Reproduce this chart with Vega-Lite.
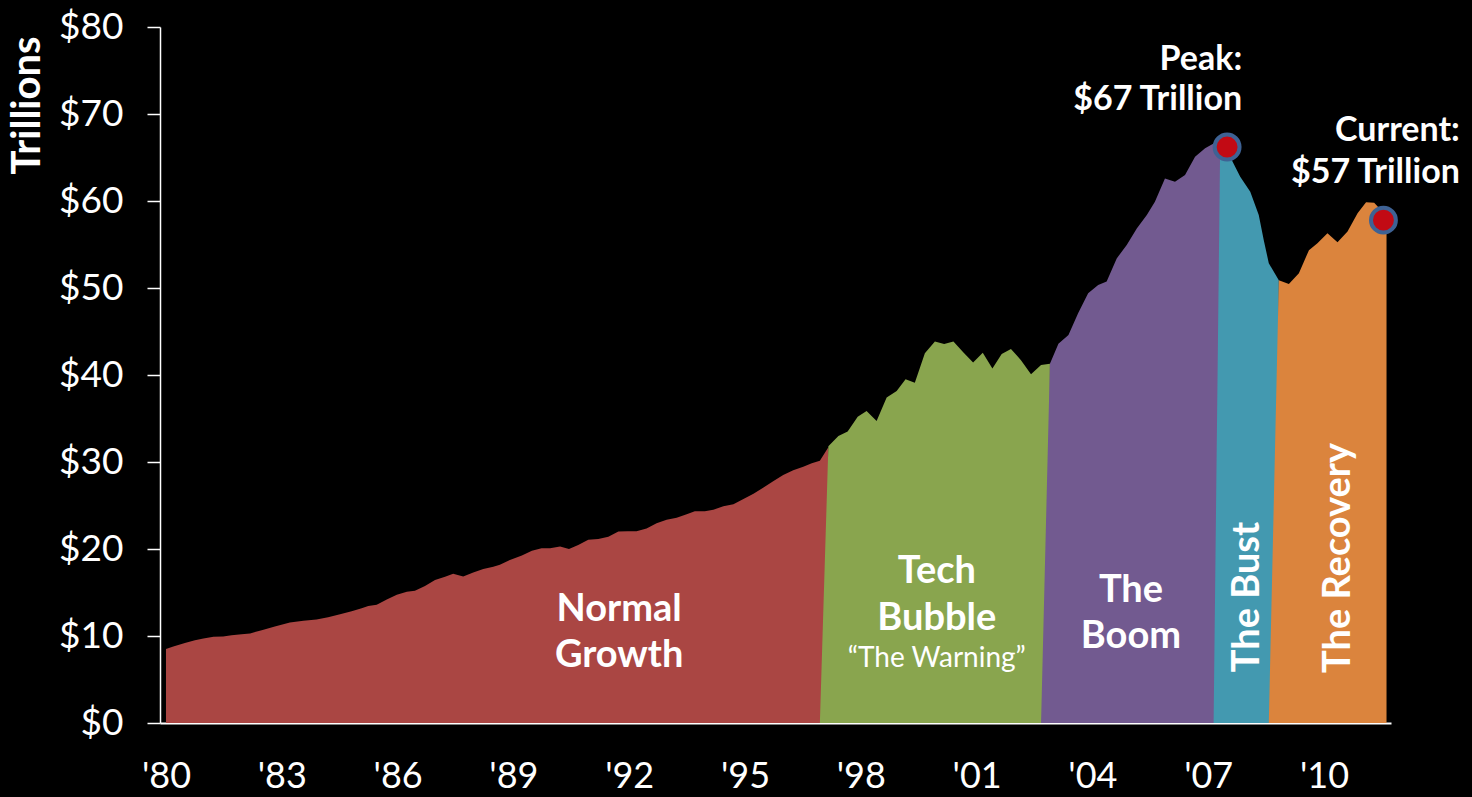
{
  "$schema": "https://vega.github.io/schema/vega-lite/v6.json",
  "width": 1231,
  "height": 696,
  "autosize": {"type": "none"},
  "padding": {"left": 160, "top": 27, "right": 81, "bottom": 74},
  "background": "#000000",
  "config": {"view": {"stroke": null}, "font": "Lato"},
  "datasets": {
    "series": [
      {"era": "Normal Growth", "year": 1980.00, "value": 8.5},
      {"era": "Normal Growth", "year": 1980.19, "value": 8.8},
      {"era": "Normal Growth", "year": 1980.49, "value": 9.2},
      {"era": "Normal Growth", "year": 1980.75, "value": 9.5},
      {"era": "Normal Growth", "year": 1980.97, "value": 9.7},
      {"era": "Normal Growth", "year": 1981.23, "value": 9.9},
      {"era": "Normal Growth", "year": 1981.48, "value": 9.95},
      {"era": "Normal Growth", "year": 1981.70, "value": 10.1},
      {"era": "Normal Growth", "year": 1981.96, "value": 10.2},
      {"era": "Normal Growth", "year": 1982.18, "value": 10.3},
      {"era": "Normal Growth", "year": 1982.48, "value": 10.65},
      {"era": "Normal Growth", "year": 1982.82, "value": 11.1},
      {"era": "Normal Growth", "year": 1983.21, "value": 11.55},
      {"era": "Normal Growth", "year": 1983.56, "value": 11.75},
      {"era": "Normal Growth", "year": 1983.90, "value": 11.9},
      {"era": "Normal Growth", "year": 1984.20, "value": 12.15},
      {"era": "Normal Growth", "year": 1984.51, "value": 12.5},
      {"era": "Normal Growth", "year": 1984.81, "value": 12.85},
      {"era": "Normal Growth", "year": 1985.07, "value": 13.2},
      {"era": "Normal Growth", "year": 1985.24, "value": 13.45},
      {"era": "Normal Growth", "year": 1985.46, "value": 13.6},
      {"era": "Normal Growth", "year": 1985.72, "value": 14.2},
      {"era": "Normal Growth", "year": 1985.98, "value": 14.75},
      {"era": "Normal Growth", "year": 1986.24, "value": 15.1},
      {"era": "Normal Growth", "year": 1986.45, "value": 15.2},
      {"era": "Normal Growth", "year": 1986.71, "value": 15.75},
      {"era": "Normal Growth", "year": 1986.97, "value": 16.45},
      {"era": "Normal Growth", "year": 1987.23, "value": 16.8},
      {"era": "Normal Growth", "year": 1987.44, "value": 17.15},
      {"era": "Normal Growth", "year": 1987.70, "value": 16.85},
      {"era": "Normal Growth", "year": 1987.96, "value": 17.3},
      {"era": "Normal Growth", "year": 1988.22, "value": 17.7},
      {"era": "Normal Growth", "year": 1988.48, "value": 17.95},
      {"era": "Normal Growth", "year": 1988.65, "value": 18.2},
      {"era": "Normal Growth", "year": 1988.91, "value": 18.75},
      {"era": "Normal Growth", "year": 1989.22, "value": 19.25},
      {"era": "Normal Growth", "year": 1989.48, "value": 19.8},
      {"era": "Normal Growth", "year": 1989.73, "value": 20.1},
      {"era": "Normal Growth", "year": 1989.95, "value": 20.1},
      {"era": "Normal Growth", "year": 1990.21, "value": 20.3},
      {"era": "Normal Growth", "year": 1990.44, "value": 20.0},
      {"era": "Normal Growth", "year": 1990.68, "value": 20.45},
      {"era": "Normal Growth", "year": 1990.94, "value": 21.05},
      {"era": "Normal Growth", "year": 1991.20, "value": 21.15},
      {"era": "Normal Growth", "year": 1991.46, "value": 21.4},
      {"era": "Normal Growth", "year": 1991.72, "value": 22.0},
      {"era": "Normal Growth", "year": 1991.96, "value": 22.05},
      {"era": "Normal Growth", "year": 1992.19, "value": 22.05},
      {"era": "Normal Growth", "year": 1992.45, "value": 22.35},
      {"era": "Normal Growth", "year": 1992.71, "value": 22.95},
      {"era": "Normal Growth", "year": 1992.97, "value": 23.35},
      {"era": "Normal Growth", "year": 1993.23, "value": 23.6},
      {"era": "Normal Growth", "year": 1993.49, "value": 24.0},
      {"era": "Normal Growth", "year": 1993.70, "value": 24.35},
      {"era": "Normal Growth", "year": 1993.96, "value": 24.35},
      {"era": "Normal Growth", "year": 1994.18, "value": 24.5},
      {"era": "Normal Growth", "year": 1994.44, "value": 24.9},
      {"era": "Normal Growth", "year": 1994.70, "value": 25.15},
      {"era": "Normal Growth", "year": 1994.96, "value": 25.75},
      {"era": "Normal Growth", "year": 1995.22, "value": 26.35},
      {"era": "Normal Growth", "year": 1995.47, "value": 27.05},
      {"era": "Normal Growth", "year": 1995.73, "value": 27.8},
      {"era": "Normal Growth", "year": 1995.99, "value": 28.5},
      {"era": "Normal Growth", "year": 1996.25, "value": 29.05},
      {"era": "Normal Growth", "year": 1996.51, "value": 29.45},
      {"era": "Normal Growth", "year": 1996.73, "value": 29.85},
      {"era": "Normal Growth", "year": 1996.94, "value": 30.15},
      {"era": "Normal Growth", "year": 1997.16, "value": 31.7},
      {"era": "Tech Bubble", "year": 1996.94, "value": 0},
      {"era": "Tech Bubble", "year": 1997.16, "value": 31.8},
      {"era": "Tech Bubble", "year": 1997.42, "value": 33.0},
      {"era": "Tech Bubble", "year": 1997.66, "value": 33.5},
      {"era": "Tech Bubble", "year": 1997.92, "value": 35.2},
      {"era": "Tech Bubble", "year": 1998.15, "value": 35.85},
      {"era": "Tech Bubble", "year": 1998.41, "value": 34.7},
      {"era": "Tech Bubble", "year": 1998.67, "value": 37.4},
      {"era": "Tech Bubble", "year": 1998.93, "value": 38.15},
      {"era": "Tech Bubble", "year": 1999.16, "value": 39.5},
      {"era": "Tech Bubble", "year": 1999.40, "value": 39.1},
      {"era": "Tech Bubble", "year": 1999.66, "value": 42.5},
      {"era": "Tech Bubble", "year": 1999.92, "value": 43.85},
      {"era": "Tech Bubble", "year": 2000.16, "value": 43.55},
      {"era": "Tech Bubble", "year": 2000.40, "value": 43.85},
      {"era": "Tech Bubble", "year": 2000.66, "value": 42.6},
      {"era": "Tech Bubble", "year": 2000.91, "value": 41.45},
      {"era": "Tech Bubble", "year": 2001.16, "value": 42.55},
      {"era": "Tech Bubble", "year": 2001.41, "value": 40.75},
      {"era": "Tech Bubble", "year": 2001.65, "value": 42.4},
      {"era": "Tech Bubble", "year": 2001.89, "value": 43.0},
      {"era": "Tech Bubble", "year": 2002.15, "value": 41.7},
      {"era": "Tech Bubble", "year": 2002.41, "value": 40.1},
      {"era": "Tech Bubble", "year": 2002.67, "value": 41.15},
      {"era": "Tech Bubble", "year": 2002.90, "value": 41.3},
      {"era": "The Boom", "year": 2002.67, "value": 0},
      {"era": "The Boom", "year": 2002.90, "value": 41.3},
      {"era": "The Boom", "year": 2003.12, "value": 43.6},
      {"era": "The Boom", "year": 2003.38, "value": 44.6},
      {"era": "The Boom", "year": 2003.63, "value": 47.1},
      {"era": "The Boom", "year": 2003.89, "value": 49.4},
      {"era": "The Boom", "year": 2004.15, "value": 50.35},
      {"era": "The Boom", "year": 2004.37, "value": 50.75},
      {"era": "The Boom", "year": 2004.63, "value": 53.4},
      {"era": "The Boom", "year": 2004.89, "value": 54.95},
      {"era": "The Boom", "year": 2005.15, "value": 56.85},
      {"era": "The Boom", "year": 2005.41, "value": 58.4},
      {"era": "The Boom", "year": 2005.62, "value": 59.9},
      {"era": "The Boom", "year": 2005.88, "value": 62.6},
      {"era": "The Boom", "year": 2006.14, "value": 62.2},
      {"era": "The Boom", "year": 2006.40, "value": 63.0},
      {"era": "The Boom", "year": 2006.66, "value": 65.1},
      {"era": "The Boom", "year": 2006.92, "value": 66.05},
      {"era": "The Boom", "year": 2007.14, "value": 66.6},
      {"era": "The Boom", "year": 2007.31, "value": 66.25},
      {"era": "The Bust", "year": 2007.14, "value": 0},
      {"era": "The Bust", "year": 2007.31, "value": 66.25},
      {"era": "The Bust", "year": 2007.61, "value": 64.7},
      {"era": "The Bust", "year": 2007.83, "value": 62.8},
      {"era": "The Bust", "year": 2008.09, "value": 61.05},
      {"era": "The Bust", "year": 2008.31, "value": 58.4},
      {"era": "The Bust", "year": 2008.44, "value": 55.5},
      {"era": "The Bust", "year": 2008.57, "value": 52.85},
      {"era": "The Bust", "year": 2008.83, "value": 50.9},
      {"era": "The Recovery", "year": 2008.57, "value": 0},
      {"era": "The Recovery", "year": 2008.83, "value": 50.9},
      {"era": "The Recovery", "year": 2009.09, "value": 50.45},
      {"era": "The Recovery", "year": 2009.35, "value": 51.7},
      {"era": "The Recovery", "year": 2009.61, "value": 54.35},
      {"era": "The Recovery", "year": 2009.83, "value": 55.15},
      {"era": "The Recovery", "year": 2010.09, "value": 56.3},
      {"era": "The Recovery", "year": 2010.35, "value": 55.25},
      {"era": "The Recovery", "year": 2010.61, "value": 56.5},
      {"era": "The Recovery", "year": 2010.87, "value": 58.6},
      {"era": "The Recovery", "year": 2011.09, "value": 59.85},
      {"era": "The Recovery", "year": 2011.30, "value": 59.8},
      {"era": "The Recovery", "year": 2011.47, "value": 59.0},
      {"era": "The Recovery", "year": 2011.62, "value": 57.5}
    ],
    "points": [
      {"name": "Peak", "year": 2007.49, "value": 66.2},
      {"name": "Current", "year": 2011.54, "value": 57.8}
    ],
    "labels": [
      {"group": "era", "text": "Normal", "year": 1991.74, "value": 12.99},
      {"group": "era", "text": "Growth", "year": 1991.74, "value": 7.7},
      {"group": "era", "text": "Tech", "year": 1999.97, "value": 17.36},
      {"group": "era", "text": "Bubble", "year": 1999.97, "value": 11.95},
      {"group": "note", "text": "“The Warning”", "year": 1999.97, "value": 7.36},
      {"group": "era", "text": "The", "year": 2005.0, "value": 15.17},
      {"group": "era", "text": "Boom", "year": 2005.0, "value": 9.89},
      {"group": "vertical", "text": "The Bust", "year": 2008.03, "value": 14.48},
      {"group": "vertical", "text": "The Recovery", "year": 2010.39, "value": 18.97},
      {"group": "callout", "text": "Peak:", "year": 2007.88, "value": 76.2},
      {"group": "callout", "text": "$67 Trillion", "year": 2007.88, "value": 71.6},
      {"group": "callout", "text": "Current:", "year": 2013.52, "value": 68.05},
      {"group": "callout", "text": "$57 Trillion", "year": 2013.52, "value": 63.2}
    ]
  },
  "layer": [
    {
      "data": {"name": "series"},
      "transform": [{"filter": "datum.era === 'Normal Growth'"}],
      "mark": {"type": "area", "color": "#AA4643", "interpolate": "linear"},
      "encoding": {
        "x": {
          "field": "year", "type": "quantitative",
          "scale": {"domain": [1979.845, 2011.736], "nice": false, "zero": false},
          "axis": {
            "values": [1980, 1983, 1986, 1989, 1992, 1995, 1998, 2001, 2004, 2007, 2010],
            "labelExpr": "\"'\" + substring(toString(datum.value), 2, 4)",
            "ticks": false, "grid": false,
            "domainColor": "#ffffff", "domainWidth": 2,
            "labelColor": "#ffffff", "labelFont": "Lato", "labelFontSize": 36,
            "labelPadding": 36, "labelFlush": false, "labelOverlap": false,
            "title": null
          }
        },
        "y": {
          "field": "value", "type": "quantitative",
          "scale": {"domain": [0, 80], "nice": false},
          "axis": {
            "values": [0, 10, 20, 30, 40, 50, 60, 70, 80],
            "labelExpr": "'$' + datum.value",
            "tickSize": 13, "tickColor": "#ffffff", "tickWidth": 1.5,
            "domainColor": "#ffffff", "domainWidth": 1.5, "grid": false,
            "labelColor": "#ffffff", "labelFont": "Lato", "labelFontSize": 37,
            "labelPadding": 24,
            "title": "Trillions", "titleColor": "#ffffff", "titleFont": "Lato",
            "titleFontSize": 40, "titleFontWeight": "bold",
            "titleX": -133, "titleY": 78, "titleAngle": 270,
            "titleAlign": "center", "titleBaseline": "middle"
          }
        }
      }
    },
    {
      "data": {"name": "series"},
      "transform": [{"filter": "datum.era === 'Tech Bubble'"}],
      "mark": {"type": "area", "color": "#89A54E"},
      "encoding": {"x": {"field": "year", "type": "quantitative"}, "y": {"field": "value", "type": "quantitative"}}
    },
    {
      "data": {"name": "series"},
      "transform": [{"filter": "datum.era === 'The Boom'"}],
      "mark": {"type": "area", "color": "#725A90"},
      "encoding": {"x": {"field": "year", "type": "quantitative"}, "y": {"field": "value", "type": "quantitative"}}
    },
    {
      "data": {"name": "series"},
      "transform": [{"filter": "datum.era === 'The Bust'"}],
      "mark": {"type": "area", "color": "#4399B0"},
      "encoding": {"x": {"field": "year", "type": "quantitative"}, "y": {"field": "value", "type": "quantitative"}}
    },
    {
      "data": {"name": "series"},
      "transform": [{"filter": "datum.era === 'The Recovery'"}],
      "mark": {"type": "area", "color": "#DB843D"},
      "encoding": {"x": {"field": "year", "type": "quantitative"}, "y": {"field": "value", "type": "quantitative"}}
    },
    {
      "data": {"name": "points"},
      "mark": {"type": "point", "shape": "circle", "filled": true, "size": 620, "fill": "#C20A14", "stroke": "#3E6294", "strokeWidth": 4, "opacity": 1},
      "encoding": {"x": {"field": "year", "type": "quantitative"}, "y": {"field": "value", "type": "quantitative"}}
    },
    {
      "data": {"name": "labels"},
      "transform": [{"filter": "datum.group === 'era'"}],
      "mark": {"type": "text", "font": "Lato", "fontWeight": "bold", "fontSize": 38, "color": "#ffffff", "align": "center", "baseline": "middle"},
      "encoding": {"x": {"field": "year", "type": "quantitative"}, "y": {"field": "value", "type": "quantitative"}, "text": {"field": "text"}}
    },
    {
      "data": {"name": "labels"},
      "transform": [{"filter": "datum.group === 'note'"}],
      "mark": {"type": "text", "font": "Lato", "fontSize": 28, "color": "#ffffff", "align": "center", "baseline": "middle"},
      "encoding": {"x": {"field": "year", "type": "quantitative"}, "y": {"field": "value", "type": "quantitative"}, "text": {"field": "text"}}
    },
    {
      "data": {"name": "labels"},
      "transform": [{"filter": "datum.group === 'vertical'"}],
      "mark": {"type": "text", "font": "Lato", "fontWeight": "bold", "fontSize": 38, "color": "#ffffff", "align": "center", "baseline": "middle", "angle": 270},
      "encoding": {"x": {"field": "year", "type": "quantitative"}, "y": {"field": "value", "type": "quantitative"}, "text": {"field": "text"}}
    },
    {
      "data": {"name": "labels"},
      "transform": [{"filter": "datum.group === 'callout'"}],
      "mark": {"type": "text", "font": "Lato", "fontWeight": "bold", "fontSize": 34, "color": "#ffffff", "align": "right", "baseline": "middle"},
      "encoding": {"x": {"field": "year", "type": "quantitative"}, "y": {"field": "value", "type": "quantitative"}, "text": {"field": "text"}}
    }
  ]
}
